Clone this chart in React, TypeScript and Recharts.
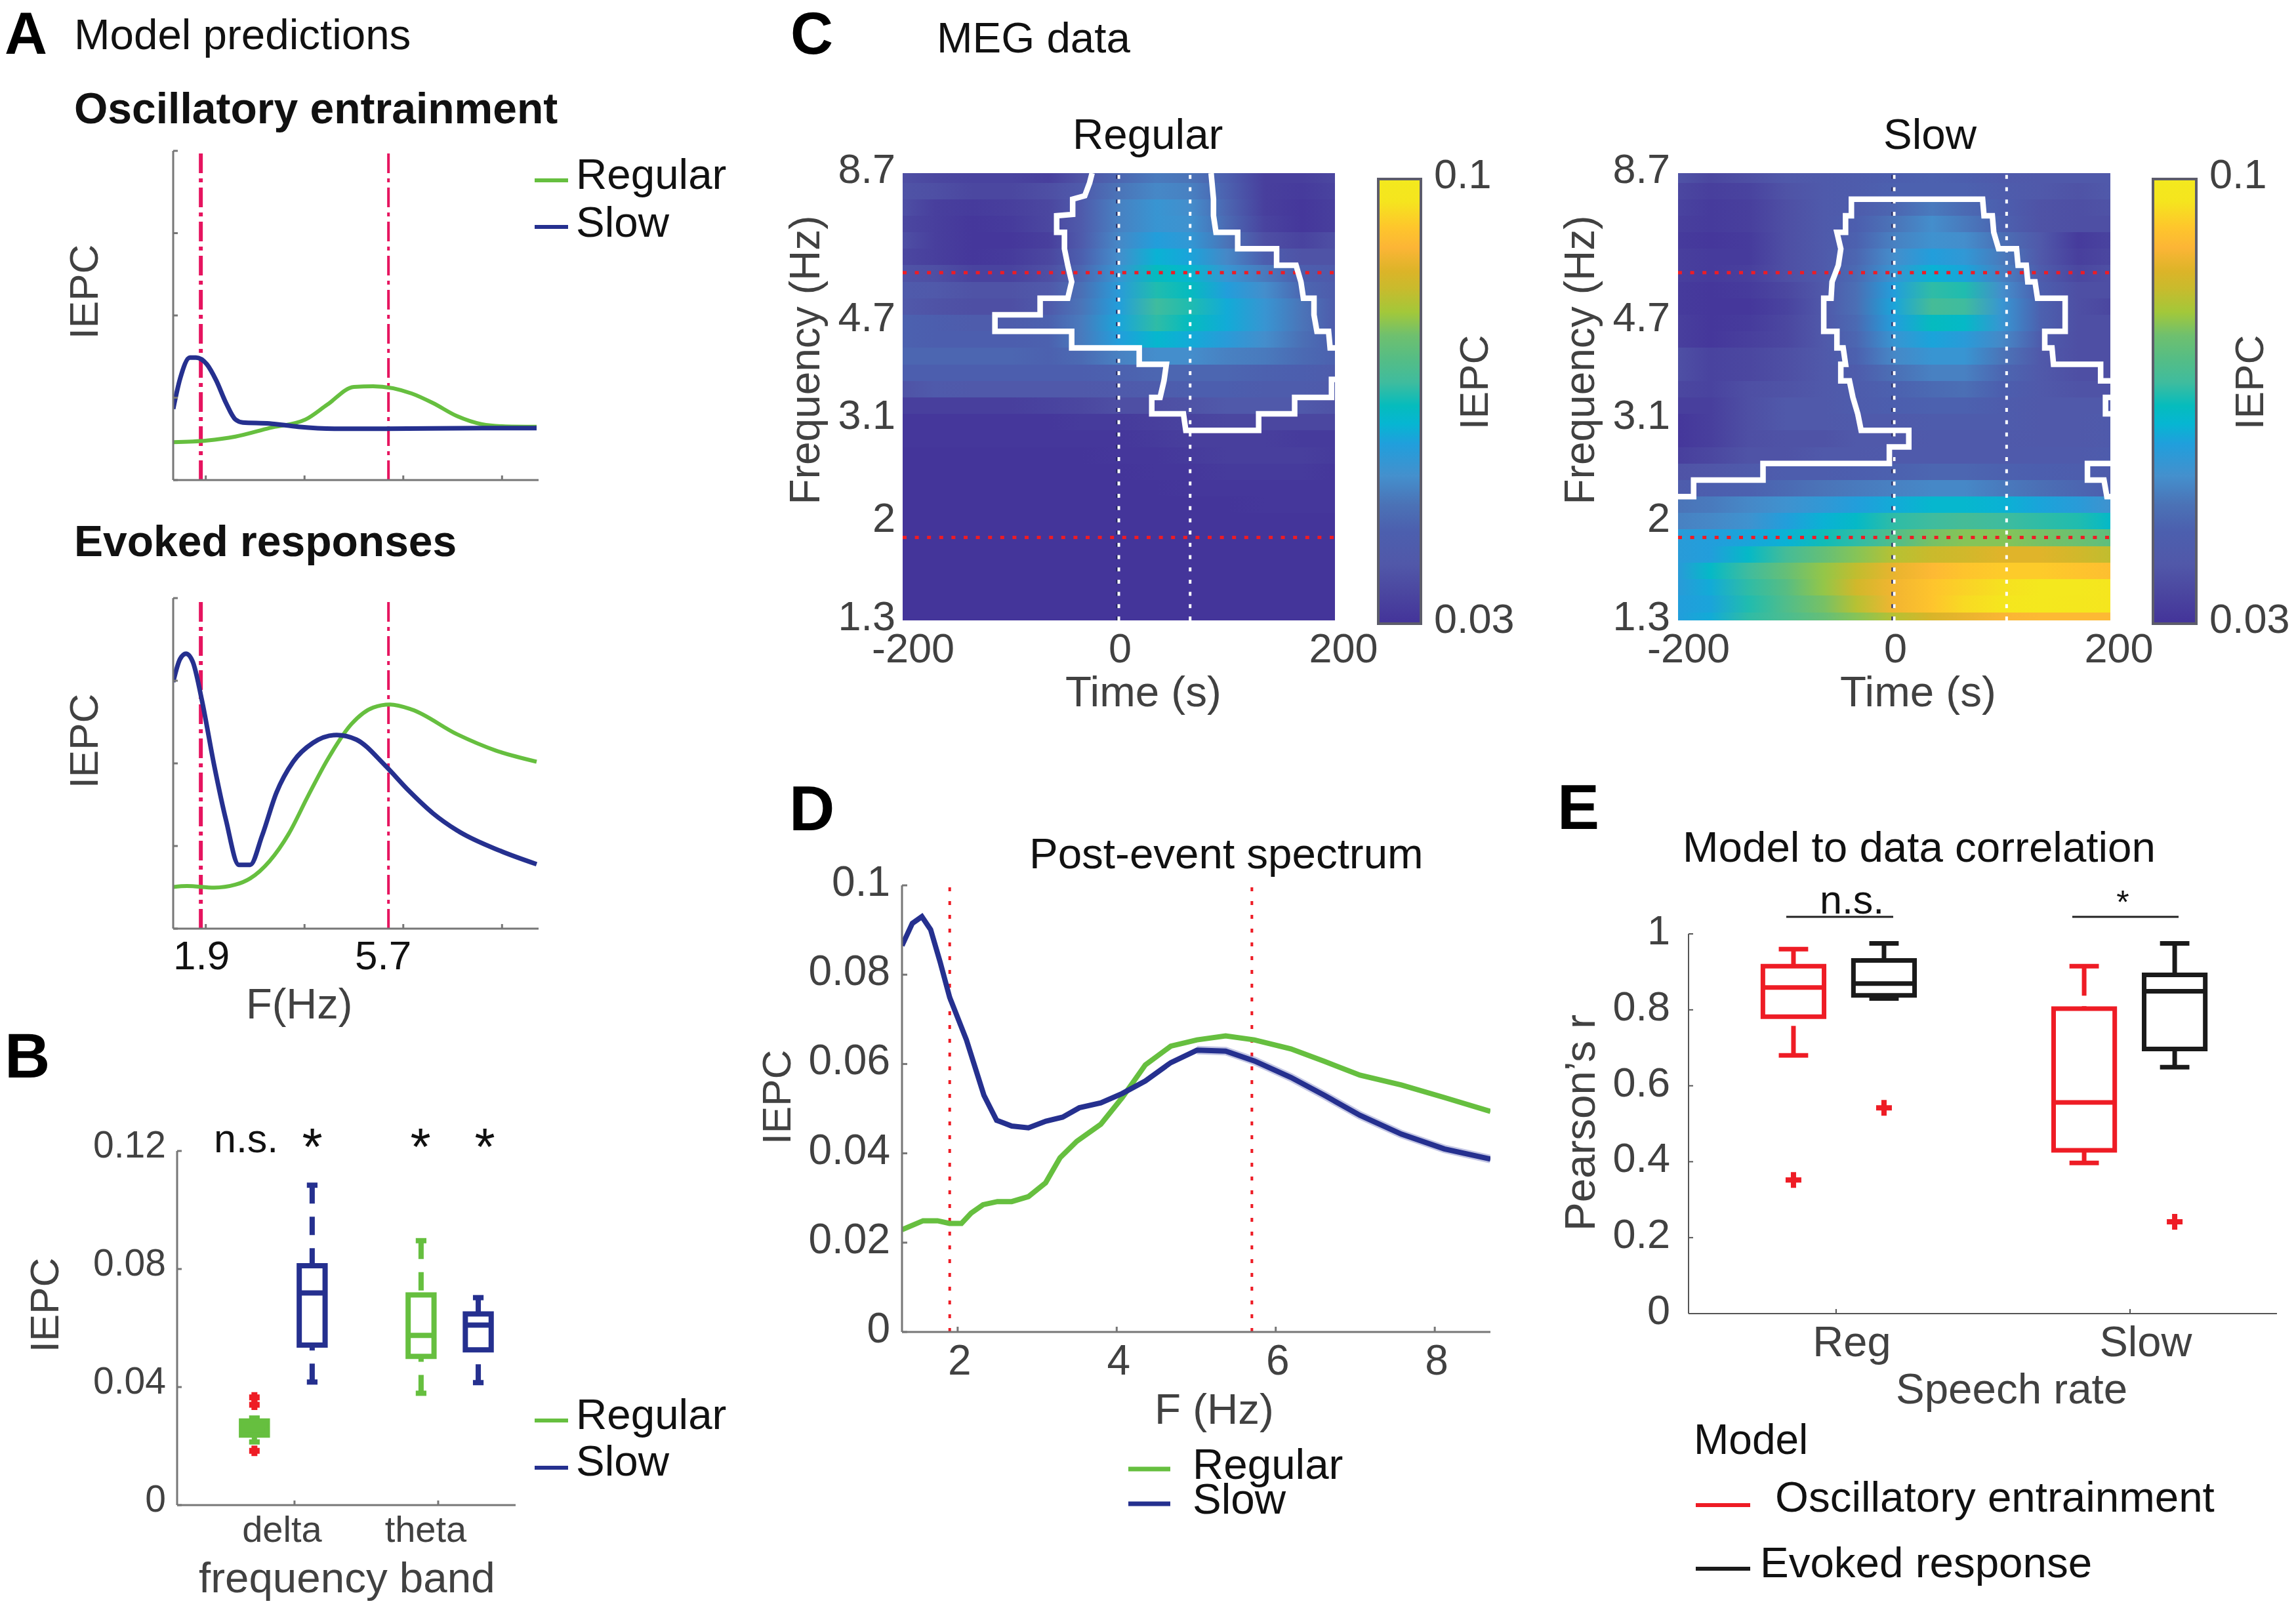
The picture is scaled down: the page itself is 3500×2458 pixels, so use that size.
import { ComposedChart, Line, XAxis, YAxis, ReferenceLine, ReferenceArea } from "recharts";

const PAGE_W = 3500;
const PAGE_H = 2458;
const FONT = "'Liberation Sans', Arial, sans-serif";
const GREEN = "#66bf3f";
const BLUE = "#25308f";
const PINK = "#e6145f";
const RED = "#ee1c25";
const BLACK = "#1a1a1a";
const INK = "#111111";
const GREY = "#414141";
const AXIS = "#777777";

const BANDS = [1.9, 5.7];

// panel A, model predictions
const A_TOP_FREQ_REGULAR = [1.34, 2.02, 2.6, 3.29, 4.02, 4.46, 5.0, 5.39, 6.17, 6.6, 7.09, 7.58, 8.07, 8.7];
const A_TOP_REGULAR = [0.115, 0.12, 0.132, 0.158, 0.184, 0.229, 0.283, 0.285, 0.263, 0.234, 0.194, 0.17, 0.163, 0.162];
const A_TOP_FREQ_SLOW = [1.34, 1.48, 1.68, 1.8, 2.02, 2.21, 2.41, 2.6, 2.75, 3.29, 3.87, 4.65, 5.63, 7.58, 8.7];
const A_TOP_SLOW = [0.216, 0.308, 0.372, 0.372, 0.352, 0.303, 0.234, 0.184, 0.175, 0.172, 0.162, 0.156, 0.156, 0.158, 0.158];
const A_LOW_FREQ_REGULAR = [1.34, 1.62, 2.17, 2.6, 2.9, 3.29, 3.68, 4.07, 4.46, 4.95, 5.39, 5.73, 6.17, 7.09, 7.87, 8.7];
const A_LOW_REGULAR = [0.126, 0.129, 0.124, 0.133, 0.152, 0.204, 0.287, 0.401, 0.51, 0.619, 0.669, 0.678, 0.663, 0.588, 0.539, 0.505];
const A_LOW_FREQ_SLOW = [1.34, 1.48, 1.6, 1.74, 1.92, 2.17, 2.41, 2.67, 2.9, 3.14, 3.43, 3.77, 4.17, 4.65, 5.05, 5.63, 6.12, 6.6, 7.09, 7.97, 8.7];
const A_LOW_SLOW = [0.746, 0.816, 0.832, 0.806, 0.692, 0.494, 0.328, 0.193, 0.193, 0.281, 0.411, 0.505, 0.562, 0.586, 0.572, 0.494, 0.416, 0.349, 0.297, 0.235, 0.195];

// panel B, box plots
const B_POS = [0.721, 1.123, 1.881, 2.279];
const B_COLORS = [GREEN, BLUE, GREEN, BLUE];
const B_HIGH = [0.0295, 0.1084, 0.0896, 0.0703];
const B_Q3 = [0.0285, 0.0811, 0.0712, 0.0648];
const B_MED = [0.027, 0.0719, 0.0575, 0.061];
const B_Q1 = [0.0237, 0.0542, 0.0504, 0.0526];
const B_LOW = [0.0214, 0.0417, 0.0379, 0.0415];
const B_OUTLIERS = [0.0365, 0.034, 0.0184];

// panel C, IEPC x 1000, rows from 8.7 Hz down to 1.3 Hz
const TIMES = [-200, -170, -135, -100, -65, -35, 0, 35, 65, 100, 135, 170, 200];
const ROW_EDGES = [8.7, 8.353, 7.787, 7.259, 6.767, 6.308, 5.881, 5.482, 5.111, 4.764, 4.441, 4.14, 3.86, 3.598, 3.354, 3.127, 2.915, 2.717, 2.533, 2.361, 2.201, 2.052, 1.913, 1.783, 1.662, 1.549, 1.444, 1.346, 1.3];
const REGULAR_IEPC = [
  [37, 35, 34, 34, 33, 38, 46, 50, 49, 44, 33, 33, 35],
  [38, 37, 35, 35, 37, 41, 49, 52, 51, 45, 33, 32, 34],
  [37, 33, 32, 33, 35, 41, 51, 55, 53, 46, 33, 31, 33],
  [35, 33, 31, 32, 35, 41, 51, 55, 54, 47, 34, 31, 33],
  [37, 33, 31, 31, 33, 41, 52, 58, 56, 49, 37, 34, 37],
  [35, 33, 31, 32, 35, 44, 53, 61, 59, 52, 44, 38, 38],
  [38, 37, 34, 34, 37, 46, 55, 64, 62, 55, 50, 44, 41],
  [41, 40, 38, 38, 40, 48, 57, 66, 64, 58, 53, 46, 42],
  [40, 38, 37, 37, 41, 49, 58, 68, 66, 60, 55, 49, 42],
  [45, 44, 42, 42, 45, 50, 59, 67, 64, 60, 55, 49, 42],
  [45, 44, 44, 44, 45, 50, 58, 62, 60, 57, 53, 48, 44],
  [46, 46, 46, 46, 45, 47, 51, 53, 53, 51, 50, 47, 45],
  [44, 44, 44, 44, 44, 44, 45, 46, 46, 46, 45, 44, 42],
  [38, 41, 40, 40, 40, 40, 41, 42, 44, 44, 42, 42, 41],
  [33, 33, 33, 33, 34, 35, 37, 37, 38, 40, 40, 40, 38],
  [31, 31, 31, 31, 31, 32, 32, 33, 34, 35, 35, 35, 35],
  [31, 31, 31, 31, 31, 31, 31, 32, 33, 33, 33, 32, 32],
  [30, 30, 30, 30, 30, 30, 31, 31, 32, 33, 33, 33, 32],
  [30, 30, 30, 30, 30, 30, 30, 31, 31, 32, 32, 32, 31],
  [30, 30, 30, 30, 30, 30, 30, 30, 31, 31, 31, 31, 31],
  [30, 30, 30, 30, 30, 30, 30, 30, 30, 30, 31, 31, 31],
  [30, 30, 30, 30, 30, 30, 30, 30, 30, 30, 30, 30, 30],
  [30, 30, 30, 30, 30, 30, 30, 30, 30, 30, 30, 30, 30],
  [30, 30, 30, 30, 30, 30, 30, 30, 30, 30, 30, 30, 30],
  [30, 30, 30, 30, 30, 30, 30, 30, 30, 30, 30, 30, 30],
  [30, 30, 30, 30, 30, 30, 30, 30, 30, 30, 30, 30, 30],
  [30, 30, 30, 30, 30, 30, 30, 30, 30, 30, 30, 30, 30],
  [30, 30, 30, 30, 30, 30, 30, 30, 30, 30, 30, 30, 30],
];
const SLOW_IEPC = [
  [38, 35, 37, 40, 41, 42, 44, 45, 44, 41, 40, 40, 40],
  [35, 33, 34, 38, 41, 42, 45, 45, 45, 42, 40, 38, 40],
  [34, 32, 33, 37, 41, 42, 46, 50, 47, 44, 38, 37, 38],
  [33, 32, 33, 37, 41, 44, 49, 53, 50, 45, 38, 37, 37],
  [32, 31, 32, 37, 41, 45, 51, 54, 53, 48, 40, 32, 34],
  [33, 32, 32, 37, 41, 46, 53, 58, 56, 50, 40, 33, 35],
  [33, 32, 33, 37, 41, 47, 55, 61, 59, 51, 42, 35, 37],
  [32, 31, 32, 35, 40, 48, 58, 67, 66, 53, 44, 37, 37],
  [32, 31, 31, 34, 40, 48, 59, 69, 68, 55, 45, 37, 35],
  [33, 31, 32, 35, 40, 47, 58, 64, 63, 55, 45, 37, 37],
  [33, 31, 33, 35, 40, 46, 55, 59, 57, 52, 42, 37, 37],
  [37, 34, 35, 37, 40, 45, 52, 55, 55, 49, 40, 37, 37],
  [37, 34, 35, 37, 40, 42, 48, 51, 51, 46, 40, 37, 37],
  [35, 34, 37, 38, 40, 42, 45, 47, 48, 44, 40, 38, 38],
  [33, 33, 37, 40, 40, 42, 44, 45, 45, 42, 40, 40, 40],
  [31, 33, 37, 40, 40, 41, 41, 42, 42, 42, 40, 40, 41],
  [31, 33, 37, 38, 38, 40, 40, 41, 41, 41, 40, 40, 41],
  [33, 35, 38, 38, 40, 40, 41, 41, 41, 41, 41, 41, 42],
  [38, 39, 41, 43, 43, 44, 45, 46, 46, 45, 44, 43, 42],
  [42, 44, 45, 47, 49, 50, 51, 52, 52, 50, 48, 46, 44],
  [49, 50, 52, 54, 56, 58, 60, 62, 62, 61, 59, 57, 54],
  [51, 52, 54, 58, 61, 63, 67, 68, 69, 68, 67, 66, 63],
  [57, 58, 59, 61, 65, 67, 71, 76, 77, 77, 76, 75, 73],
  [57, 58, 63, 69, 74, 77, 81, 83, 84, 86, 86, 84, 82],
  [57, 63, 68, 74, 78, 82, 87, 90, 92, 93, 93, 92, 91],
  [57, 60, 67, 72, 78, 84, 88, 92, 94, 96, 99, 99, 97],
  [58, 59, 66, 71, 76, 81, 88, 92, 95, 97, 99, 98, 97],
  [58, 60, 67, 70, 74, 77, 81, 85, 87, 89, 90, 90, 90],
];
const CMAP_VALUES = [30.5, 35, 39.4, 44.5, 48.7, 53.3, 58.3, 61.5, 64.3, 68, 71.7, 75.4, 79, 82.7, 85.5, 89.2, 92.4, 96.5, 100];
const CMAP_COLORS = ["#44359a", "#4b47a0", "#5158a9", "#4c5fae", "#4b72b6", "#4490cd", "#209fdc", "#06b6d2", "#05bcbd", "#3fbc9e", "#55bd85", "#6fc06e", "#a2c83a", "#c8bb2d", "#dcb428", "#fcb536", "#fec62c", "#f5e51e", "#f3e91e"];

// significance contours, [time, frequency]
const REGULAR_CONTOURS = [
  [[-24.7, 8.7], [-27, 8.353], [-31.5, 7.9], [-42.7, 7.787], [-42.7, 7.3], [-57.5, 7.259], [-57.5, 6.767], [-50.3, 6.767], [-50.3, 6.308], [-47.2, 5.881], [-43.6, 5.482], [-47.2, 5.111], [-72.8, 5.111], [-72.8, 4.764], [-114.6, 4.764], [-114.6, 4.441], [-43.6, 4.441], [-43.6, 4.14], [18.9, 4.14], [18.9, 3.86], [44, 3.86], [41.8, 3.598], [38.2, 3.354], [30.5, 3.354], [30.5, 3.127], [59.8, 3.127], [62, 2.915], [129.4, 2.915], [129.4, 3.127], [162.7, 3.127], [162.7, 3.354], [196.8, 3.354], [196.8, 3.62], [200, 3.62]],
  [[200, 4.14], [195.5, 4.14], [194.1, 4.441], [183.3, 4.441], [180.6, 4.764], [180.6, 5.111], [170.8, 5.111], [168.5, 5.482], [164, 5.881], [146, 5.881], [146, 6.308], [110, 6.308], [110, 6.767], [89.9, 6.767], [87.6, 7.259], [87.6, 7.787], [85.4, 8.7]],
];
const SLOW_CONTOURS = [
  [[-200, 2.2], [-185.6, 2.2], [-185.6, 2.361], [-121.4, 2.361], [-121.4, 2.533], [-4.5, 2.533], [-4.5, 2.717], [13.5, 2.717], [13.5, 2.915], [-30.6, 2.915], [-33.7, 3.127], [-38.2, 3.354], [-41.4, 3.598], [-49.4, 3.598], [-49.4, 3.86], [-45, 3.86], [-47.2, 4.14], [-53, 4.14], [-53, 4.441], [-65.2, 4.441], [-65.2, 5.111], [-58.4, 5.111], [-57.5, 5.482], [-51.7, 5.881], [-49.4, 6.308], [-53, 6.767], [-45, 6.767], [-45, 7.259], [-39.6, 7.259], [-39.6, 7.787], [81.8, 7.787], [83.1, 7.259], [90.8, 7.259], [92.1, 6.767], [96.6, 6.308], [113.2, 6.308], [114.6, 5.881], [122.2, 5.881], [123.6, 5.482], [130.3, 5.482], [132.6, 5.111], [158.2, 5.111], [158.2, 4.441], [139.3, 4.441], [139.3, 4.14], [146, 4.14], [147.4, 3.86], [191, 3.86], [191, 3.598], [200, 3.598]],
  [[200, 3.354], [195.5, 3.354], [195.5, 3.127], [200, 3.127]],
  [[200, 2.533], [178.8, 2.533], [178.8, 2.361], [194.1, 2.361], [196.8, 2.2], [200, 2.2]],
];

// panel D, post-event spectrum
const D_FREQ_REGULAR = [1.3, 1.565, 1.746, 1.897, 2.048, 2.169, 2.32, 2.5, 2.68, 2.89, 3.106, 3.287, 3.498, 3.8, 4.07, 4.36, 4.68, 5.01, 5.37, 5.73, 6.19, 6.61, 7.06, 7.58, 8.12, 8.7];
const D_REGULAR = [0.0229, 0.0249, 0.0249, 0.0243, 0.0243, 0.0266, 0.0285, 0.0292, 0.0292, 0.0303, 0.0334, 0.039, 0.0427, 0.0465, 0.0525, 0.0598, 0.064, 0.0654, 0.0663, 0.0654, 0.0634, 0.0606, 0.0575, 0.0553, 0.0525, 0.0494];
const D_FREQ_SLOW = [1.3, 1.43, 1.55, 1.66, 1.78, 1.9, 2.11, 2.33, 2.49, 2.68, 2.89, 3.11, 3.32, 3.53, 3.8, 4.07, 4.36, 4.68, 5.01, 5.37, 5.73, 6.19, 6.61, 7.06, 7.58, 8.12, 8.7];
const D_SLOW = [0.0865, 0.0915, 0.093, 0.0901, 0.0828, 0.0749, 0.0654, 0.053, 0.0474, 0.0461, 0.0457, 0.0472, 0.0481, 0.0502, 0.0513, 0.0534, 0.0562, 0.0603, 0.0631, 0.0629, 0.0607, 0.057, 0.053, 0.0485, 0.0443, 0.041, 0.0387];

// panel E, box plots
const E_POS = [0.855, 1.163, 1.844, 2.152];
const E_COLORS = [RED, BLACK, RED, BLACK];
const E_HIGH = [0.96, 0.975, 0.915, 0.975];
const E_Q3 = [0.915, 0.93, 0.803, 0.892];
const E_MED = [0.859, 0.869, 0.556, 0.849];
const E_Q1 = [0.782, 0.838, 0.43, 0.697];
const E_LOW = [0.68, 0.83, 0.397, 0.649];
const E_OUTLIER_X = [0.855, 1.163, 2.152];
const E_OUTLIER_Y = [0.352, 0.542, 0.242];

const zip = (xs: number[], ys: number[]) => xs.map((x, i) => ({ x, y: ys[i] }));
const pairs = (pts: number[][]) => pts.map(([x, y]) => ({ x, y }));

function hexToRgb(hex: string) {
  return [1, 3, 5].map((i) => parseInt(hex.slice(i, i + 2), 16));
}

function colorOf(v: number) {
  let i = 0;
  while (i < CMAP_VALUES.length - 2 && v > CMAP_VALUES[i + 1]) i++;
  const t = Math.min(1, Math.max(0, (v - CMAP_VALUES[i]) / (CMAP_VALUES[i + 1] - CMAP_VALUES[i])));
  const a = hexToRgb(CMAP_COLORS[i]);
  const b = hexToRgb(CMAP_COLORS[i + 1]);
  const c = a.map((n, k) => Math.round(n + (b[k] - n) * t));
  return `rgb(${c[0]},${c[1]},${c[2]})`;
}

function Txt({ x, y, children, size = 65.5, color = INK, anchor = "start", weight = 400, rotate }: any) {
  return (
    <text
      x={x}
      y={y}
      fontFamily={FONT}
      fontSize={size}
      fill={color}
      fontWeight={weight}
      textAnchor={anchor}
      transform={rotate ? `rotate(${rotate} ${x} ${y})` : undefined}
    >
      {children}
    </text>
  );
}

function LegendRow({ x1, x2, lineY, textX, textY, label, color, width = 6 }: any) {
  return (
    <g>
      <line x1={x1} x2={x2} y1={lineY} y2={lineY} stroke={color} strokeWidth={width} />
      <Txt x={textX} y={textY}>{label}</Txt>
    </g>
  );
}

// every chart is a page sized layer, so plot boxes are given in page pixels
function Layer({ box, children }: any) {
  const [left, top, right, bottom] = box;
  return (
    <div style={{ position: "absolute", left: 0, top: 0 }}>
      <ComposedChart
        width={PAGE_W}
        height={PAGE_H}
        margin={{ left: left - 1, top, right: PAGE_W - right, bottom: PAGE_H - bottom - 1 }}
      >
        {children}
      </ComposedChart>
    </div>
  );
}

function path(key: string, data: any[], stroke: string, strokeWidth: number, extra: any = {}) {
  return (
    <Line
      key={key}
      data={data}
      dataKey="y"
      type="linear"
      stroke={stroke}
      strokeWidth={strokeWidth}
      dot={false}
      activeDot={false}
      legendType="none"
      isAnimationActive={false}
      strokeLinejoin="miter"
      {...extra}
    />
  );
}

const plusDot = (color: string, size: number, thick: number) => (p: any) => (
  <path
    key={`${p.cx}-${p.cy}`}
    d={`M${p.cx - size} ${p.cy}H${p.cx + size}M${p.cx} ${p.cy - size}V${p.cy + size}`}
    stroke={color}
    strokeWidth={thick}
    fill="none"
  />
);

function boxes(prefix: string, pos: number[], colors: string[], high: number[], q3: number[], med: number[], q1: number[], low: number[], halfBox: number, halfCap: number, width: number, dash: string) {
  return pos.flatMap((x, i) => {
    const c = colors[i];
    const l = x - halfBox;
    const r = x + halfBox;
    return [
      path(`${prefix}-top-${i}`, [{ x, y: high[i] }, { x, y: q3[i] }], c, width, { strokeDasharray: dash }),
      path(`${prefix}-low-${i}`, [{ x, y: low[i] }, { x, y: q1[i] }], c, width, { strokeDasharray: dash }),
      path(`${prefix}-capt-${i}`, [{ x: x - halfCap, y: high[i] }, { x: x + halfCap, y: high[i] }], c, width),
      path(`${prefix}-capl-${i}`, [{ x: x - halfCap, y: low[i] }, { x: x + halfCap, y: low[i] }], c, width),
      path(`${prefix}-box-${i}`, [{ x: l, y: q1[i] }, { x: r, y: q1[i] }, { x: r, y: q3[i] }, { x: l, y: q3[i] }, { x: l, y: q1[i] }], c, width, { strokeLinecap: "square" }),
      path(`${prefix}-med-${i}`, [{ x: l, y: med[i] }, { x: r, y: med[i] }], c, width),
    ];
  });
}

const noTick = () => <g />;

const yLabel = (right: number, dy: number, size: number) => (p: any) => (
  <text x={right} y={p.y + dy} textAnchor="end" fontFamily={FONT} fontSize={size} fill={GREY}>
    {p.payload.value}
  </text>
);

const xLabel = (baseline: number, size: number, dx: (v: any) => number, fmt: (v: any) => string = String) => (p: any) => (
  <text x={p.x + dx(p.payload.value)} y={baseline} textAnchor="middle" fontFamily={FONT} fontSize={size} fill={GREY}>
    {fmt(p.payload.value)}
  </text>
);

function ModelPanel({ box, regular, slow, yTicks }: any) {
  return (
    <Layer box={box}>
      <XAxis dataKey="x" type="number" domain={[1.34, 8.74]} ticks={[2, 4, 6, 8]} interval={0} allowDataOverflow height={1} tick={noTick} tickSize={-7} stroke={AXIS} strokeWidth={3} />
      <YAxis dataKey="y" type="number" domain={[0, 1]} ticks={yTicks} interval={0} allowDataOverflow width={1} tick={noTick} tickSize={-7} stroke={AXIS} strokeWidth={3} />
      <ReferenceLine x={BANDS[0]} stroke={PINK} strokeWidth={6} strokeDasharray="30 8 6 8" />
      <ReferenceLine x={BANDS[1]} stroke={PINK} strokeWidth={4} strokeDasharray="30 8 6 8" />
      {path("regular", regular, GREEN, 6, { type: "monotone" })}
      {path("slow", slow, BLUE, 7, { type: "monotone" })}
    </Layer>
  );
}

function HeatPanel({ box, rows, name, contours, endLine, labelRight }: any) {
  const xDx = (v: number) => (v === -200 ? 16 : v === 0 ? 2 : 13);
  return (
    <Layer box={box}>
      <XAxis dataKey="x" type="number" domain={[-200, 200]} ticks={[-200, 0, 200]} interval={0} allowDataOverflow height={1} axisLine={false} tickLine={false} tick={xLabel(1010, 63, xDx)} />
      <YAxis
        dataKey="y"
        type="number"
        scale="log"
        domain={[1.3, 8.7]}
        ticks={[1.3, 2, 3.1, 4.7, 8.7]}
        interval={0}
        allowDataOverflow
        width={1}
        axisLine={false}
        tickLine={false}
        tick={(p: any) => yLabel(labelRight, p.payload.value === 8.7 || p.payload.value === 1.3 ? 15 : 20, 63)(p)}
      />
      {rows.map((_: number[], i: number) => (
        <ReferenceArea
          key={i}
          x1={-200}
          x2={200}
          y1={ROW_EDGES[i + 1]}
          y2={ROW_EDGES[i]}
          fill={`url(#${name}-row-${i})`}
          fillOpacity={1}
          stroke="none"
          ifOverflow="visible"
          shapeRendering="crispEdges"
        />
      ))}
      <ReferenceLine x={-1} stroke="#23265f" strokeWidth={5} strokeDasharray="6 12.7" />
      {[0, endLine].map((t) => (
        <ReferenceLine key={`w${t}`} x={t} stroke="#ffffff" strokeWidth={4} strokeDasharray="6 12.7" />
      ))}
      {BANDS.map((f) => (
        <ReferenceLine key={f} y={f === 1.9 ? 1.85 : f} stroke="#ee1c25" strokeWidth={5} strokeDasharray="6 12.6" />
      ))}
      {contours.map((c: number[][], i: number) => path(`contour-${i}`, pairs(c), "#ffffff", 8.5))}
    </Layer>
  );
}

function ColorBar({ box, name }: any) {
  return (
    <Layer box={box}>
      <XAxis dataKey="x" type="number" domain={[0, 1]} hide height={1} allowDataOverflow />
      <YAxis
        dataKey="y"
        type="number"
        domain={[30, 100]}
        ticks={[30, 100]}
        interval={0}
        allowDataOverflow
        width={1}
        axisLine={false}
        tickLine={false}
        tick={(p: any) => (
          <text x={box[2] + 20} y={p.y + 14} fontFamily={FONT} fontSize={63} fill={GREY}>
            {p.payload.value === 100 ? "0.1" : "0.03"}
          </text>
        )}
      />
      <ReferenceArea x1={0} x2={1} y1={30} y2={100} fill={`url(#${name}-bar)`} fillOpacity={1} stroke="#5c5c6a" strokeWidth={4} ifOverflow="visible" />
    </Layer>
  );
}

function Gradients() {
  const maps: [string, number[][]][] = [["regular", REGULAR_IEPC], ["slow", SLOW_IEPC]];
  return (
    <defs>
      {maps.flatMap(([name, rows]) =>
        rows.map((row, i) => (
          <linearGradient key={`${name}-${i}`} id={`${name}-row-${i}`} x1="0" x2="1" y1="0" y2="0">
            {row.map((v, k) => (
              <stop key={k} offset={(TIMES[k] + 200) / 400} stopColor={colorOf(v)} />
            ))}
          </linearGradient>
        ))
      )}
      {["regular", "slow"].map((name) => (
        <linearGradient key={name} id={`${name}-bar`} x1="0" x2="0" y1="1" y2="0">
          {CMAP_VALUES.map((v, k) => (
            <stop key={k} offset={(v - 30) / 70} stopColor={CMAP_COLORS[k]} />
          ))}
        </linearGradient>
      ))}
    </defs>
  );
}

export default function App() {
  const bHalfBox = 0.09;
  const bHalfCap = 0.037;
  const eHalfBox = 0.104;
  const eHalfCap = 0.05;
  return (
    <div style={{ position: "absolute", left: 0, top: 0, width: PAGE_W, height: PAGE_H, overflow: "hidden", background: "#fff" }}>
      <svg width={PAGE_W} height={PAGE_H} style={{ position: "absolute", left: 0, top: 0 }}>
        <Gradients />
        <Txt x={7} y={82} size={90} weight={700} color="#000">A</Txt>
        <Txt x={113} y={75}>Model predictions</Txt>
        <Txt x={113} y={188} size={66} weight={700}>Oscillatory entrainment</Txt>
        <Txt x={113} y={848} size={66} weight={700}>Evoked responses</Txt>
        <LegendRow x1={815} x2={866} lineY={275} textX={878} textY={288} label="Regular" color={GREEN} />
        <LegendRow x1={815} x2={866} lineY={346} textX={878} textY={361} label="Slow" color={BLUE} />
        <Txt x={149} y={445} size={62} color={GREY} anchor="middle" rotate={-90}>IEPC</Txt>
        <Txt x={149} y={1130} size={62} color={GREY} anchor="middle" rotate={-90}>IEPC</Txt>
        <Txt x={264} y={1478} size={62}>1.9</Txt>
        <Txt x={541} y={1478} size={62}>5.7</Txt>
        <Txt x={375} y={1553} size={65} color={GREY}>F(Hz)</Txt>

        <Txt x={7} y={1643} size={96} weight={700} color="#000">B</Txt>
        <Txt x={326} y={1757} size={61}>n.s.</Txt>
        <Txt x={476} y={1776} size={80} anchor="middle">*</Txt>
        <Txt x={641} y={1776} size={80} anchor="middle">*</Txt>
        <Txt x={739} y={1776} size={80} anchor="middle">*</Txt>
        <Txt x={89} y={1990} size={62} color={GREY} anchor="middle" rotate={-90}>IEPC</Txt>
        <Txt x={303} y={2428} color={GREY}>frequency band</Txt>
        <LegendRow x1={815} x2={866} lineY={2166} textX={878} textY={2179} label="Regular" color={GREEN} />
        <LegendRow x1={815} x2={866} lineY={2238} textX={878} textY={2250} label="Slow" color={BLUE} />

        <Txt x={1205} y={82} size={90} weight={700} color="#000">C</Txt>
        <Txt x={1428} y={80}>MEG data</Txt>
        <Txt x={1635} y={227}>Regular</Txt>
        <Txt x={2871} y={227}>Slow</Txt>
        <Txt x={1249} y={549} size={64} color={GREY} anchor="middle" rotate={-90}>Frequency (Hz)</Txt>
        <Txt x={2430} y={549} size={64} color={GREY} anchor="middle" rotate={-90}>Frequency (Hz)</Txt>
        <Txt x={1624} y={1077} color={GREY}>Time (s)</Txt>
        <Txt x={2805} y={1077} color={GREY}>Time (s)</Txt>
        <Txt x={2268} y={583} size={62} color={GREY} anchor="middle" rotate={-90}>IEPC</Txt>
        <Txt x={3450} y={583} size={62} color={GREY} anchor="middle" rotate={-90}>IEPC</Txt>

        <Txt x={1203} y={1266} size={96} weight={700} color="#000">D</Txt>
        <Txt x={1569} y={1324}>Post-event spectrum</Txt>
        <Txt x={1205} y={1673} size={62} color={GREY} anchor="middle" rotate={-90}>IEPC</Txt>
        <Txt x={1760} y={2171} color={GREY}>F (Hz)</Txt>
        <LegendRow x1={1720} x2={1784} lineY={2240} textX={1818} textY={2255} label="Regular" color={GREEN} width={7} />
        <LegendRow x1={1720} x2={1784} lineY={2293} textX={1818} textY={2308} label="Slow" color={BLUE} width={7} />

        <Txt x={2374} y={1264} size={96} weight={700} color="#000">E</Txt>
        <Txt x={2565} y={1314}>Model to data correlation</Txt>
        <Txt x={2774} y={1393} size={61}>n.s.</Txt>
        <line x1={2723} x2={2886} y1={1398} y2={1398} stroke="#222" strokeWidth={3} />
        <Txt x={3236} y={1393} size={50} anchor="middle">*</Txt>
        <line x1={3159} x2={3321} y1={1398} y2={1398} stroke="#222" strokeWidth={3} />
        <Txt x={2431} y={1712} color={GREY} anchor="middle" rotate={-90}>Pearson’s r</Txt>
        <Txt x={2890} y={2140} color={GREY}>Speech rate</Txt>
        <Txt x={2582} y={2217} size={64}>Model</Txt>
        <LegendRow x1={2585} x2={2668} lineY={2295} textX={2706} textY={2305} label="Oscillatory entrainment" color={RED} width={6} />
        <LegendRow x1={2585} x2={2668} lineY={2392} textX={2683} textY={2405} label="Evoked response" color={BLACK} width={6} />
      </svg>

      <ModelPanel
        box={[264, 230, 821, 732]}
        regular={zip(A_TOP_FREQ_REGULAR, A_TOP_REGULAR)}
        slow={zip(A_TOP_FREQ_SLOW, A_TOP_SLOW)}
        yTicks={[0, 0.25, 0.5, 0.75, 1]}
      />
      <ModelPanel
        box={[264, 912, 821, 1416]}
        regular={zip(A_LOW_FREQ_REGULAR, A_LOW_REGULAR)}
        slow={zip(A_LOW_FREQ_SLOW, A_LOW_SLOW)}
        yTicks={[0, 0.25, 0.5, 0.75, 1]}
      />

      <Layer box={[270, 1755, 786, 2295]}>
        <XAxis
          dataKey="x"
          type="number"
          domain={[0.183, 2.539]}
          ticks={[1, 2]}
          interval={0}
          allowDataOverflow
          height={1}
          tickSize={-7}
          stroke={AXIS}
          strokeWidth={3}
          tick={xLabel(2351, 56, () => -19, (v) => (v === 1 ? "delta" : "theta"))}
        />
        <YAxis dataKey="y" type="number" domain={[0, 0.12]} ticks={[0, 0.04, 0.08, 0.12]} interval={0} allowDataOverflow width={1} tickSize={-7} stroke={AXIS} strokeWidth={3} tick={yLabel(253, 10, 57)} />
        <ReferenceArea x1={B_POS[0] - bHalfBox} x2={B_POS[0] + bHalfBox} y1={B_Q1[0]} y2={B_Q3[0]} fill={GREEN} fillOpacity={1} stroke="none" ifOverflow="visible" />
        {boxes("b", B_POS, B_COLORS, B_HIGH, B_Q3, B_MED, B_Q1, B_LOW, bHalfBox, bHalfCap, 8, "28 20")}
        {B_OUTLIERS.map((y, i) =>
          path(`b-out-${i}`, [{ x: B_POS[0], y }], "none", 0, { dot: plusDot(RED, 8, 9) })
        )}
      </Layer>

      <HeatPanel box={[1376, 264, 2035, 946]} rows={REGULAR_IEPC} name="regular" contours={REGULAR_CONTOURS} endLine={66} labelRight={1365} />
      <ColorBar box={[2101, 273, 2166, 950]} name="regular" />
      <HeatPanel box={[2558, 264, 3217, 946]} rows={SLOW_IEPC} name="slow" contours={SLOW_CONTOURS} endLine={104} labelRight={2546} />
      <ColorBar box={[3282, 273, 3348, 950]} name="slow" />

      <Layer box={[1375, 1350, 2272, 2031]}>
        <XAxis dataKey="x" type="number" domain={[1.3, 8.7]} ticks={[2, 4, 6, 8]} interval={0} allowDataOverflow height={1} tickSize={-8} stroke={AXIS} strokeWidth={3} tick={xLabel(2096, 64, () => 3)} />
        <YAxis dataKey="y" type="number" domain={[0, 0.1]} ticks={[0, 0.02, 0.04, 0.06, 0.08, 0.1]} interval={0} allowDataOverflow width={1} tickSize={-8} stroke={AXIS} strokeWidth={3} tick={yLabel(1357, 16, 64)} />
        {BANDS.map((f) => (
          <ReferenceLine key={f} x={f} stroke="#ee1c25" strokeWidth={4} strokeDasharray="6 15" />
        ))}
        {path("regular", zip(D_FREQ_REGULAR, D_REGULAR), GREEN, 8)}
        {path("sem", zip(D_FREQ_SLOW, D_SLOW).filter((d) => d.x >= 5), "#7b80c4", 13, { strokeOpacity: 0.45 })}
        {path("slow", zip(D_FREQ_SLOW, D_SLOW), BLUE, 8)}
      </Layer>

      <Layer box={[2574, 1424, 3471, 2003]}>
        <XAxis
          dataKey="x"
          type="number"
          domain={[0.498, 2.5]}
          ticks={[1, 2]}
          interval={0}
          allowDataOverflow
          height={1}
          tickSize={-7}
          stroke="#555555"
          strokeWidth={2}
          tick={xLabel(2068, 65, () => 24, (v) => (v === 1 ? "Reg" : "Slow"))}
        />
        <YAxis dataKey="y" type="number" domain={[0, 1]} ticks={[0, 0.2, 0.4, 0.6, 0.8, 1]} interval={0} allowDataOverflow width={1} tickSize={-7} stroke="#555555" strokeWidth={2} tick={yLabel(2546, 16, 63)} />
        {boxes("e", E_POS, E_COLORS, E_HIGH, E_Q3, E_MED, E_Q1, E_LOW, eHalfBox, eHalfCap, 7, "45 16")}
        {E_OUTLIER_X.map((x, i) =>
          path(`e-out-${i}`, [{ x, y: E_OUTLIER_Y[i] }], "none", 0, { dot: plusDot(RED, 12, 8) })
        )}
      </Layer>
    </div>
  );
}
